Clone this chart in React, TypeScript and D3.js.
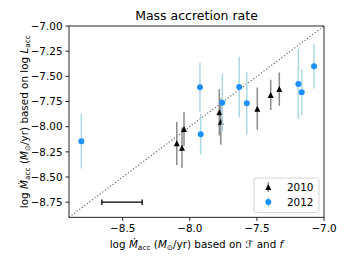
import React from "react";
import * as d3 from "d3";

const x2010 = [-8.097, -8.058, -8.043, -7.78, -7.769, -7.497, -7.397, -7.333];
const y2010 = [-8.165, -8.209, -8.023, -7.857, -7.95, -7.821, -7.685, -7.626];
const e2010 = [0.215, 0.2, 0.17, 0.23, 0.23, 0.21, 0.15, 0.165];

const x2012 = [-8.808, -7.924, -7.919, -7.758, -7.632, -7.575, -7.191, -7.166, -7.074];
const y2012 = [-8.145, -7.609, -8.074, -7.762, -7.606, -7.767, -7.576, -7.658, -7.4];
const e2012 = [0.27, 0.245, 0.2, 0.285, 0.3, 0.31, 0.35, 0.227, 0.22];

const xTicks = [-8.5, -8.0, -7.5, -7.0];
const yTicks = [-7.0, -7.25, -7.5, -7.75, -8.0, -8.25, -8.5, -8.75];
const domain = [-8.9, -7.0];
const typicalErr = { x: -8.505, y: -8.75, xerr: 0.15 };
const legendLabels = ["2010", "2012"];

const W = 352, H = 264;
const L = 69, R = 324, T = 26, B = 217.3;
const FONT = "DejaVu Sans, sans-serif";
const FS = 10.4;
const BLUE = "#1E90FF";
const LIGHTBLUE = "#ADD8E6";
const GRAYBAR = "#8c8c8c";

const fmt = (v: number, d: number) => v.toFixed(d).replace("-", "\u2212");

function Tri({ cx, cy, s = 3 }: { cx: number; cy: number; s?: number }) {
  return <path d={`M${cx},${cy - s}L${cx - s},${cy + s}L${cx + s},${cy + s}Z`} fill="#000" />;
}

export default function App() {
  const x = d3.scaleLinear().domain(domain).range([L, R]);
  const y = d3.scaleLinear().domain(domain).range([B, T]);
  const sub = 7.4;
  return (
    <svg width={W} height={H} style={{ position: "absolute", left: 0, top: 0, background: "#fff" }}
      fontFamily={FONT}>
      <defs>
        <clipPath id="plot"><rect x={L} y={T} width={R - L} height={B - T} /></clipPath>
      </defs>
      <text x={(L + R) / 2} y={20} textAnchor="middle" fontSize={12.5}>Mass accretion rate</text>
      <g clipPath="url(#plot)">
        <line x1={x(domain[0])} y1={y(domain[0])} x2={x(domain[1])} y2={y(domain[1])}
          stroke="#666" strokeWidth={1.2} strokeDasharray="1.2,2" />
        {/* typical error bar */}
        <line x1={x(typicalErr.x - typicalErr.xerr)} x2={x(typicalErr.x + typicalErr.xerr)}
          y1={y(typicalErr.y)} y2={y(typicalErr.y)} stroke="#000" strokeWidth={1.3} />
        {[typicalErr.x - typicalErr.xerr, typicalErr.x + typicalErr.xerr].map((v, i) => (
          <line key={i} x1={x(v)} x2={x(v)} y1={y(typicalErr.y) - 2.8} y2={y(typicalErr.y) + 2.8}
            stroke="#000" strokeWidth={1.3} />
        ))}
        {/* 2010 */}
        {x2010.map((v, i) => (
          <line key={"b10" + i} x1={x(v)} x2={x(v)} y1={y(y2010[i] - e2010[i])} y2={y(y2010[i] + e2010[i])}
            stroke={GRAYBAR} strokeWidth={1.5} />
        ))}
        {x2010.map((v, i) => <Tri key={"m10" + i} cx={x(v)} cy={y(y2010[i])} />)}
        {/* 2012 */}
        {x2012.map((v, i) => (
          <line key={"b12" + i} x1={x(v)} x2={x(v)} y1={y(y2012[i] - e2012[i])} y2={y(y2012[i] + e2012[i])}
            stroke={LIGHTBLUE} strokeWidth={1.5} />
        ))}
        {x2012.map((v, i) => <circle key={"m12" + i} cx={x(v)} cy={y(y2012[i])} r={3} fill={BLUE} />)}
      </g>
      {/* spines */}
      <rect x={L} y={T} width={R - L} height={B - T} fill="none" stroke="#000" strokeWidth={0.85} />
      {/* x ticks */}
      {xTicks.map((t) => (
        <g key={"xt" + t}>
          <line x1={x(t)} x2={x(t)} y1={B} y2={B + 3.6} stroke="#000" strokeWidth={0.85} />
          <text x={x(t)} y={B + 14.8} textAnchor="middle" fontSize={FS}>{fmt(t, 1)}</text>
        </g>
      ))}
      {yTicks.map((t) => (
        <g key={"yt" + t}>
          <line x1={L - 3.6} x2={L} y1={y(t)} y2={y(t)} stroke="#000" strokeWidth={0.85} />
          <text x={L - 6.5} y={y(t) + 3.8} textAnchor="end" fontSize={FS}>{fmt(t, 2)}</text>
        </g>
      ))}
      {/* x label */}
      <text x={(L + R) / 2} y={247.5} textAnchor="middle" fontSize={FS}>
        log <tspan fontStyle="italic">{"\u1E40"}</tspan>
        <tspan fontSize={sub} dy={2.2}>acc</tspan>
        <tspan dy={-2.2}> (</tspan><tspan fontStyle="italic">M</tspan>
        <tspan fontSize={sub} dy={2.2}>{"\u2299"}</tspan>
        <tspan dy={-2.2}>/yr) based on </tspan><tspan>{"\u2131"}</tspan>
        <tspan> and </tspan><tspan fontStyle="italic">f</tspan>
      </text>
      {/* y label */}
      <text transform={`translate(27.5,${(T + B) / 2}) rotate(-90)`} textAnchor="middle" fontSize={FS}>
        log <tspan fontStyle="italic">{"\u1E40"}</tspan>
        <tspan fontSize={sub} dy={2.2}>acc</tspan>
        <tspan dy={-2.2}> (</tspan><tspan fontStyle="italic">M</tspan>
        <tspan fontSize={sub} dy={2.2}>{"\u2299"}</tspan>
        <tspan dy={-2.2}>/yr) based on log </tspan><tspan fontStyle="italic">L</tspan>
        <tspan fontSize={sub} dy={2.2}>acc</tspan>
      </text>
      {/* legend */}
      <rect x={254} y={178} width={65} height={34.5} rx={2.5} fill="#fff" fillOpacity={0.8}
        stroke="#d0d0d0" strokeWidth={0.9} />
      <line x1={268.3} x2={268.3} y1={182} y2={192} stroke={GRAYBAR} strokeWidth={1.5} />
      <Tri cx={268.3} cy={187} />
      <text x={287} y={190.8} fontSize={FS}>{legendLabels[0]}</text>
      <line x1={268.3} x2={268.3} y1={197} y2={207} stroke={LIGHTBLUE} strokeWidth={1.5} />
      <circle cx={268.3} cy={202} r={3} fill={BLUE} />
      <text x={287} y={205.8} fontSize={FS}>{legendLabels[1]}</text>
    </svg>
  );
}
